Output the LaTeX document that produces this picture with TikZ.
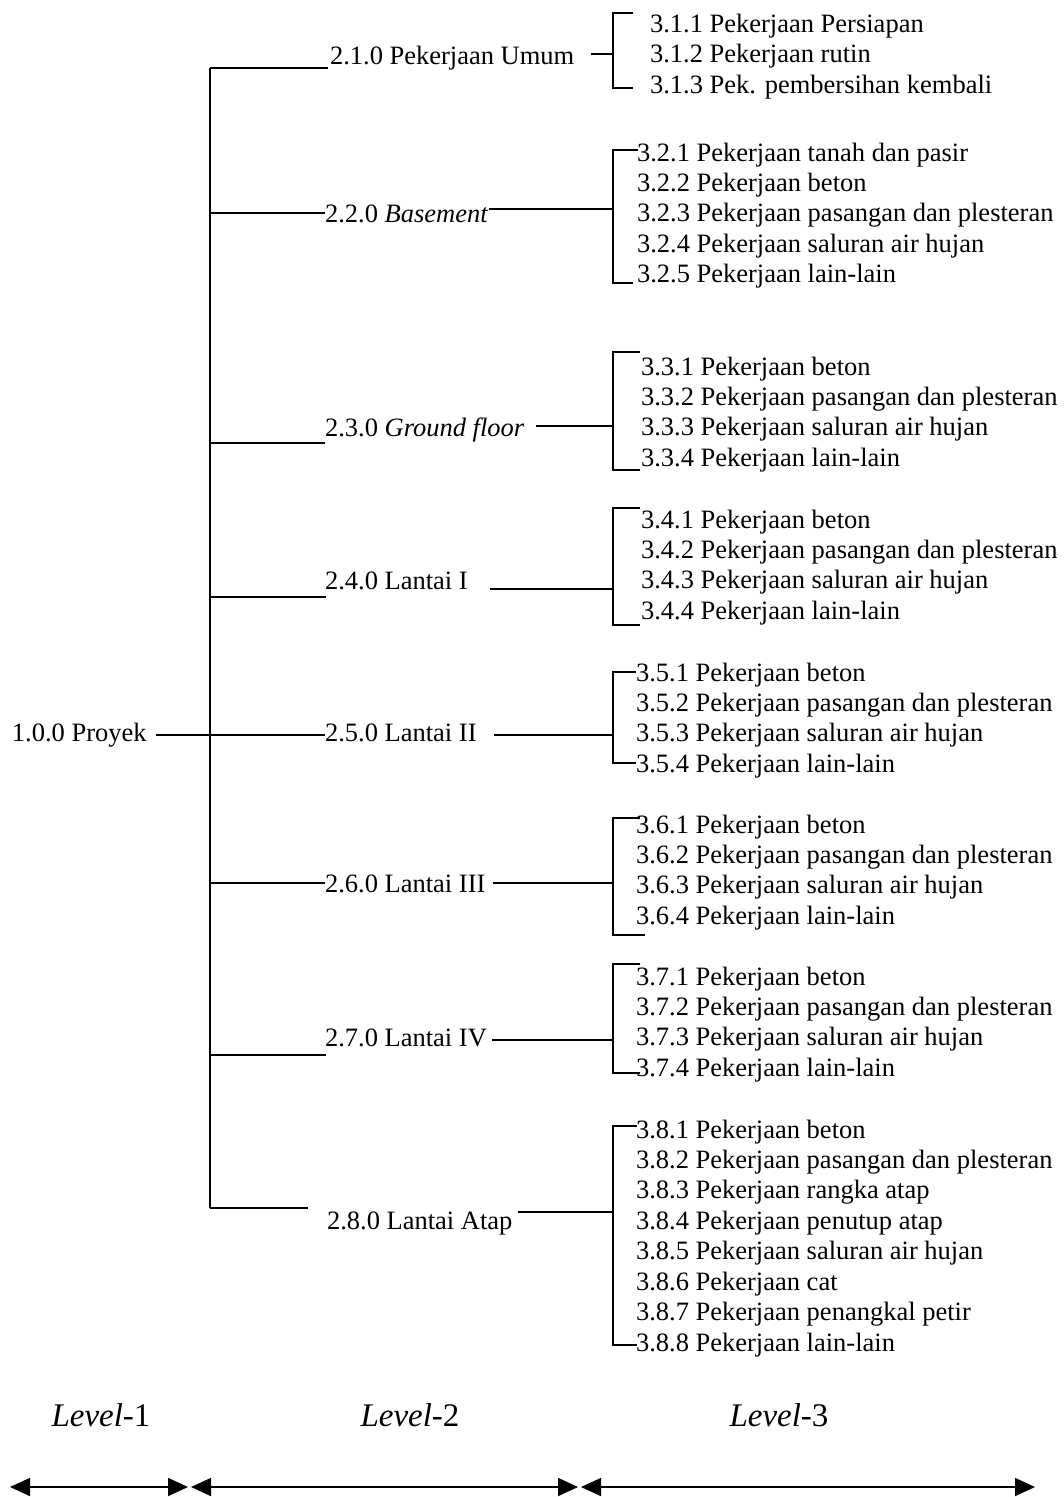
\documentclass[tikz,border=0pt]{standalone}
\usepackage{fontspec}
\setmainfont{Liberation Serif}
\usetikzlibrary{arrows.meta}
\begin{document}
\begin{tikzpicture}[x=1pt,y=-1pt,
  txt/.style={inner sep=0pt, outer sep=0pt, anchor=base west, font=\fontsize{26.5}{30}\selectfont},
  ln/.style={line width=1.6pt},
  lvl/.style={inner sep=0pt, anchor=base, font=\fontsize{33}{36}\selectfont},
  tip/.style={line width=1.6pt, {Triangle[length=20pt,width=18pt]}-{Triangle[length=20pt,width=18pt]}}]
\useasboundingbox (0,0) rectangle (1064,1497);

% ---------- Level 1 ----------
\node[txt] (n100) at (12,741) {1.0.0 Proyek};

% ---------- Level 2 labels ----------
\node[txt] (n21) at (330,64)   {2.1.0 Pekerjaan Umum};
\node[txt] (n22) at (325,222)  {2.2.0 \textit{Basement}};
\node[txt] (n23) at (325,436)  {2.3.0 \textit{Ground floor}};
\node[txt] (n24) at (325,589)  {2.4.0 Lantai I};
\node[txt] (n25) at (325,741)  {2.5.0 Lantai II};
\node[txt] (n26) at (325,892)  {2.6.0 Lantai III};
\node[txt] (n27) at (325,1046) {2.7.0 Lantai IV};
\node[txt] (n28) at (327,1229) {2.8.0 Lantai Atap};

% ---------- spine ----------
\coordinate (s21) at (210,68);
\coordinate (s22) at (210,213);
\coordinate (s23) at (210,443);
\coordinate (s24) at (210,597);
\coordinate (s25) at (210,735);
\coordinate (s26) at (210,883);
\coordinate (s27) at (210,1055);
\coordinate (s28) at (210,1208);
\draw[ln] (s21) -- (s28);

\coordinate (e21) at (328,68);
\coordinate (e22) at (325,213);
\coordinate (e23) at (325,443);
\coordinate (e24) at (326,597);
\coordinate (e25) at (325,735);
\coordinate (e26) at (325,883);
\coordinate (e27) at (326,1055);
\coordinate (e28) at (308,1208);
\foreach \i in {1,...,8} \draw[ln] (s2\i) -- (e2\i);

\draw[ln] ([xshift=9pt]n100.east |- s25) -- (s25);

% ---------- bracket joints ----------
\coordinate (m1) at (613,54);
\coordinate (m2) at (613,209);
\coordinate (m3) at (613,426);
\coordinate (m4) at (613,589);
\coordinate (m5) at (613,735);
\coordinate (m6) at (613,883);
\coordinate (m7) at (613,1040);
\coordinate (m8) at (613,1212);

\draw[ln] ([xshift=17pt]n21.east |- m1) -- (m1);
\draw[ln] ([xshift=1pt]n22.east |- m2) -- (m2);
\draw[ln] ([xshift=12pt]n23.east |- m3) -- (m3);
\draw[ln] ([xshift=22pt]n24.east |- m4) -- (m4);
\draw[ln] ([xshift=17pt]n25.east |- m5) -- (m5);
\draw[ln] ([xshift=8pt]n26.east |- m6) -- (m6);
\draw[ln] ([xshift=5pt]n27.east |- m7) -- (m7);
\draw[ln] ([xshift=6pt]n28.east |- m8) -- (m8);

% bracket ends (top tick end, bottom tick end)
\coordinate (q1a) at (633,13);   \coordinate (q1b) at (633,88);
\coordinate (q2a) at (638,150);  \coordinate (q2b) at (633,283);
\coordinate (q3a) at (640,352);  \coordinate (q3b) at (640,470);
\coordinate (q4a) at (640,508);  \coordinate (q4b) at (640,625);
\coordinate (q5a) at (636,672);  \coordinate (q5b) at (636,763);
\coordinate (q6a) at (640,818);  \coordinate (q6b) at (645,935);
\coordinate (q7a) at (640,964);  \coordinate (q7b) at (640,1073);
\coordinate (q8a) at (637,1126); \coordinate (q8b) at (637,1345);
\foreach \i in {1,...,8} \draw[ln] (q\i a) -| (m\i) |- (q\i b);

% ---------- Level 3 items ----------
\foreach \t [count=\i] in {3.1.1 Pekerjaan Persiapan, 3.1.2 Pekerjaan rutin, 3.1.3 Pek. pembersihan kembali}
  \node[txt] (c1\i) at (650,{32+30.5*(\i-1)}) {\t};
\foreach \t [count=\i] in {3.2.1 Pekerjaan tanah dan pasir, 3.2.2 Pekerjaan beton, 3.2.3 Pekerjaan pasangan dan plesteran, 3.2.4 Pekerjaan saluran air hujan, 3.2.5 Pekerjaan lain-lain}
  \node[txt] (c2\i) at (637,{161+30.4*(\i-1)}) {\t};
\foreach \t [count=\i] in {3.3.1 Pekerjaan beton, 3.3.2 Pekerjaan pasangan dan plesteran, 3.3.3 Pekerjaan saluran air hujan, 3.3.4 Pekerjaan lain-lain}
  \node[txt] (c3\i) at (641,{375+30.4*(\i-1)}) {\t};
\foreach \t [count=\i] in {3.4.1 Pekerjaan beton, 3.4.2 Pekerjaan pasangan dan plesteran, 3.4.3 Pekerjaan saluran air hujan, 3.4.4 Pekerjaan lain-lain}
  \node[txt] (c4\i) at (641,{528+30.4*(\i-1)}) {\t};
\foreach \t [count=\i] in {3.5.1 Pekerjaan beton, 3.5.2 Pekerjaan pasangan dan plesteran, 3.5.3 Pekerjaan saluran air hujan, 3.5.4 Pekerjaan lain-lain}
  \node[txt] (c5\i) at (636,{681+30.4*(\i-1)}) {\t};
\foreach \t [count=\i] in {3.6.1 Pekerjaan beton, 3.6.2 Pekerjaan pasangan dan plesteran, 3.6.3 Pekerjaan saluran air hujan, 3.6.4 Pekerjaan lain-lain}
  \node[txt] (c6\i) at (636,{833+30.4*(\i-1)}) {\t};
\foreach \t [count=\i] in {3.7.1 Pekerjaan beton, 3.7.2 Pekerjaan pasangan dan plesteran, 3.7.3 Pekerjaan saluran air hujan, 3.7.4 Pekerjaan lain-lain}
  \node[txt] (c7\i) at (636,{985+30.4*(\i-1)}) {\t};
\foreach \t [count=\i] in {3.8.1 Pekerjaan beton, 3.8.2 Pekerjaan pasangan dan plesteran, 3.8.3 Pekerjaan rangka atap, 3.8.4 Pekerjaan penutup atap, 3.8.5 Pekerjaan saluran air hujan, 3.8.6 Pekerjaan cat, 3.8.7 Pekerjaan penangkal petir, 3.8.8 Pekerjaan lain-lain}
  \node[txt] (c8\i) at (636,{1138+30.45*(\i-1)}) {\t};

% ---------- level captions ----------
\node[lvl] (lv1) at (101,1426) {\textit{Level}-1};
\node[lvl] (lv2) at (410,1426) {\textit{Level}-2};
\node[lvl] (lv3) at (779,1426) {\textit{Level}-3};

\coordinate (a0) at (10,1487);
\coordinate (a1) at (188,1487);
\coordinate (a2) at (191,1487);
\coordinate (a3) at (578,1487);
\coordinate (a4) at (581,1487);
\coordinate (a5) at (1035,1487);
\draw[tip] (a0) -- (a1);
\draw[tip] (a2) -- (a3);
\draw[tip] (a4) -- (a5);
\end{tikzpicture}
\end{document}
